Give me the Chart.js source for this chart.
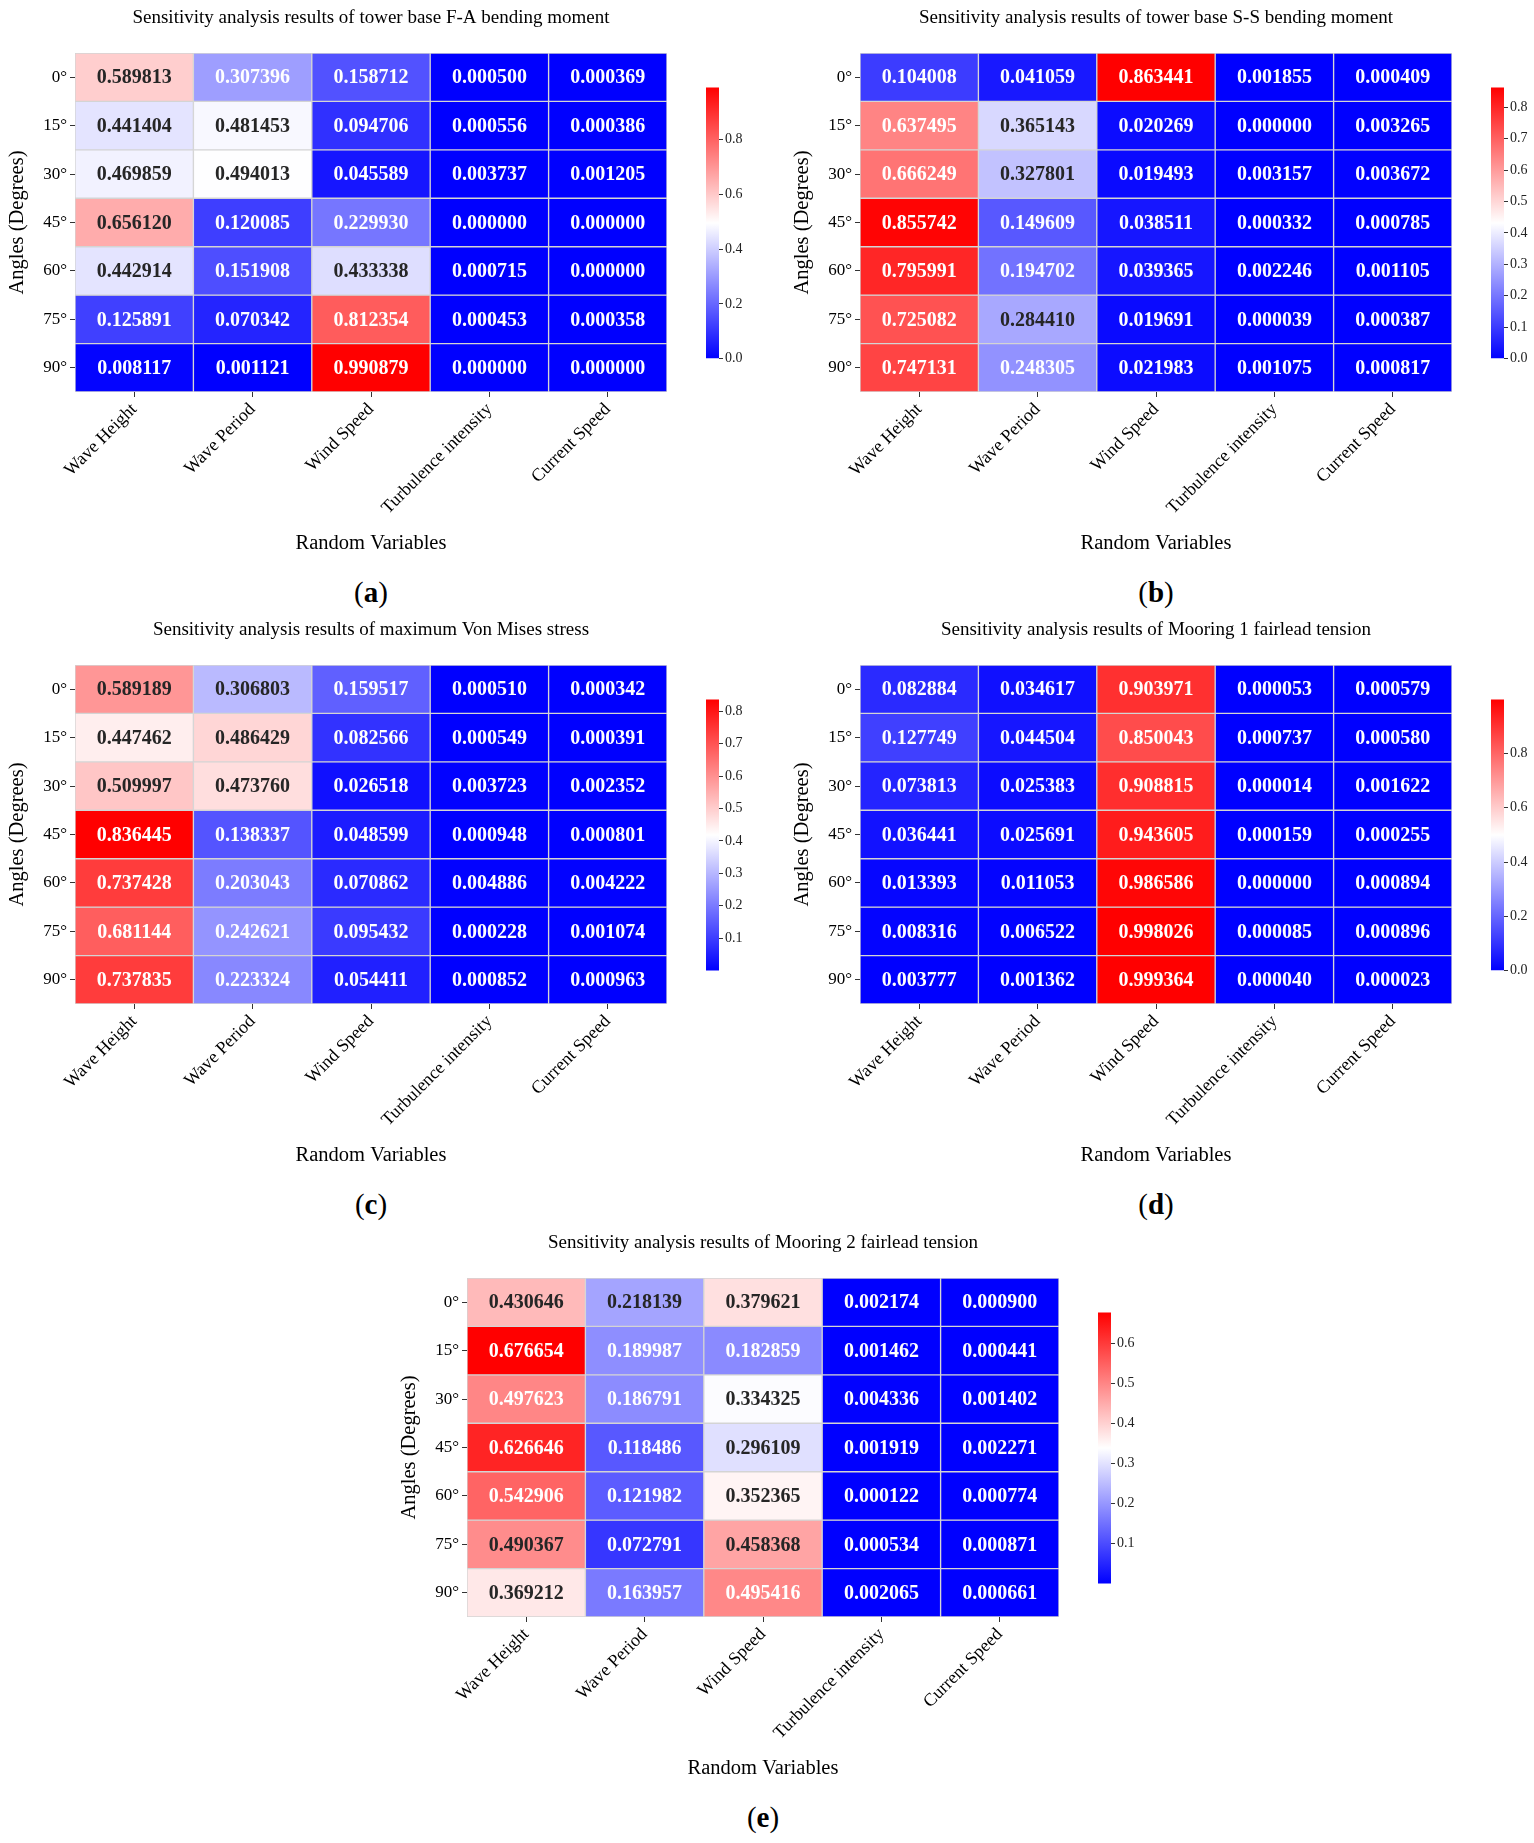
<!DOCTYPE html>
<html>
<head>
<meta charset="utf-8">
<title>Sensitivity analysis heatmaps</title>
<script src="https://cdn.jsdelivr.net/npm/chart.js@4.4.1/dist/chart.umd.min.js"></script>
<style>
  body { margin: 0; background: #fff; }
  #page { position: relative; width: 1534px; height: 1843px; font-family: "Liberation Serif", "Times New Roman", serif; }
  canvas { position: absolute; }
  .cap { position: absolute; width: 120px; text-align: center; font-size: 29px; line-height: 34px; color: #000; }
</style>
</head>
<body>
<div id="page"></div>
<script>
"use strict";

// row / column labels shared by all five maps
const angles = ["0°", "15°", "30°", "45°", "60°", "75°", "90°"];
const variables = ["Wave Height", "Wave Period", "Wind Speed", "Turbulence intensity", "Current Speed"];

// (a) tower base F-A bending moment, one row per angle
const faMoment = [
  [0.589813, 0.307396, 0.158712, 0.000500, 0.000369],
  [0.441404, 0.481453, 0.094706, 0.000556, 0.000386],
  [0.469859, 0.494013, 0.045589, 0.003737, 0.001205],
  [0.656120, 0.120085, 0.229930, 0.000000, 0.000000],
  [0.442914, 0.151908, 0.433338, 0.000715, 0.000000],
  [0.125891, 0.070342, 0.812354, 0.000453, 0.000358],
  [0.008117, 0.001121, 0.990879, 0.000000, 0.000000]
];

// (b) tower base S-S bending moment
const ssMoment = [
  [0.104008, 0.041059, 0.863441, 0.001855, 0.000409],
  [0.637495, 0.365143, 0.020269, 0.000000, 0.003265],
  [0.666249, 0.327801, 0.019493, 0.003157, 0.003672],
  [0.855742, 0.149609, 0.038511, 0.000332, 0.000785],
  [0.795991, 0.194702, 0.039365, 0.002246, 0.001105],
  [0.725082, 0.284410, 0.019691, 0.000039, 0.000387],
  [0.747131, 0.248305, 0.021983, 0.001075, 0.000817]
];

// (c) maximum Von Mises stress
const vonMises = [
  [0.589189, 0.306803, 0.159517, 0.000510, 0.000342],
  [0.447462, 0.486429, 0.082566, 0.000549, 0.000391],
  [0.509997, 0.473760, 0.026518, 0.003723, 0.002352],
  [0.836445, 0.138337, 0.048599, 0.000948, 0.000801],
  [0.737428, 0.203043, 0.070862, 0.004886, 0.004222],
  [0.681144, 0.242621, 0.095432, 0.000228, 0.001074],
  [0.737835, 0.223324, 0.054411, 0.000852, 0.000963]
];

// (d) Mooring 1 fairlead tension
const mooring1 = [
  [0.082884, 0.034617, 0.903971, 0.000053, 0.000579],
  [0.127749, 0.044504, 0.850043, 0.000737, 0.000580],
  [0.073813, 0.025383, 0.908815, 0.000014, 0.001622],
  [0.036441, 0.025691, 0.943605, 0.000159, 0.000255],
  [0.013393, 0.011053, 0.986586, 0.000000, 0.000894],
  [0.008316, 0.006522, 0.998026, 0.000085, 0.000896],
  [0.003777, 0.001362, 0.999364, 0.000040, 0.000023]
];

// (e) Mooring 2 fairlead tension
const mooring2 = [
  [0.430646, 0.218139, 0.379621, 0.002174, 0.000900],
  [0.676654, 0.189987, 0.182859, 0.001462, 0.000441],
  [0.497623, 0.186791, 0.334325, 0.004336, 0.001402],
  [0.626646, 0.118486, 0.296109, 0.001919, 0.002271],
  [0.542906, 0.121982, 0.352365, 0.000122, 0.000774],
  [0.490367, 0.072791, 0.458368, 0.000534, 0.000871],
  [0.369212, 0.163957, 0.495416, 0.002065, 0.000661]
];

// colour bar tick labels
const faTicks = [0.0, 0.2, 0.4, 0.6, 0.8];
const ssTicks = [0.0, 0.1, 0.2, 0.3, 0.4, 0.5, 0.6, 0.7, 0.8];
const vmTicks = [0.1, 0.2, 0.3, 0.4, 0.5, 0.6, 0.7, 0.8];
const m1Ticks = [0.0, 0.2, 0.4, 0.6, 0.8];
const m2Ticks = [0.1, 0.2, 0.3, 0.4, 0.5, 0.6];

Chart.defaults.font.family = '"Liberation Serif", "Times New Roman", serif';
Chart.defaults.color = "#000";

const page = document.getElementById("page");

// heatmap box size in px
const mapW = 592;
const mapH = 339;
const yAxisW = 75;
const titleH = 53;
const xAxisH = 168;

// matplotlib "bwr" through a 256 colour lut
function bwr(v, lo, hi) {
  let i = Math.floor((v - lo) / (hi - lo) * 256);
  if (i > 255) i = 255;
  if (i < 0) i = 0;
  const t = i / 255;
  if (t < 0.5) return [2 * t, 2 * t, 1];
  return [1, 2 * (1 - t), 2 * (1 - t)];
}

function toCss(c) {
  return "rgb(" + c.map(x => Math.round(x * 255)).join(",") + ")";
}

// same rule seaborn uses for annot text colour
function luminance(c) {
  const lin = c.map(x => x <= 0.03928 ? x / 12.92 : Math.pow((x + 0.055) / 1.055, 2.4));
  return 0.2126 * lin[0] + 0.7152 * lin[1] + 0.0722 * lin[2];
}

const cellLabels = {
  id: "cellLabels",
  afterDatasetsDraw(chart) {
    const opts = chart.options.plugins.cellLabels;
    const ctx = chart.ctx;
    ctx.save();
    ctx.font = 'bold 20px "Liberation Serif"';
    ctx.textAlign = "center";
    ctx.textBaseline = "middle";
    chart.data.datasets.forEach((ds, r) => {
      chart.getDatasetMeta(r).data.forEach((bar, c) => {
        const v = opts.rows[r][c];
        const col = bwr(v, opts.lo, opts.hi);
        ctx.fillStyle = luminance(col) > 0.408 ? "#262626" : "#ffffff";
        ctx.fillText(v.toFixed(6), bar.x, (bar.y + bar.base) / 2 + 1);
      });
    });
    ctx.restore();
  }
};

function addCanvas(left, top, w, h) {
  const cv = document.createElement("canvas");
  cv.width = w;
  cv.height = h;
  cv.style.left = left + "px";
  cv.style.top = top + "px";
  cv.style.width = w + "px";
  cv.style.height = h + "px";
  page.appendChild(cv);
  return cv;
}

function makePanel(mapLeft, mapTop, title, rows, cbTicks, letter) {
  const flat = rows.flat();
  const lo = Math.min(...flat);
  const hi = Math.max(...flat);

  // heatmap
  const cv = addCanvas(mapLeft - yAxisW, mapTop - titleH, yAxisW + mapW + 12, titleH + mapH + xAxisH);
  const datasets = rows.map(row => ({
    data: row.map(() => 1),
    backgroundColor: row.map(v => toCss(bwr(v, lo, hi))),
    borderColor: "#d4d4d4",
    borderWidth: 1,
    borderSkipped: false,
    barPercentage: 1,
    categoryPercentage: 1
  }));

  new Chart(cv, {
    type: "bar",
    data: { labels: variables, datasets: datasets },
    plugins: [cellLabels],
    options: {
      responsive: false,
      animation: false,
      events: [],
      layout: { padding: { left: 0, right: 12, top: 0, bottom: 0 } },
      plugins: {
        legend: { display: false },
        tooltip: { enabled: false },
        title: {
          display: true,
          text: title,
          fullSize: false,
          color: "#000",
          font: { size: 19, weight: "normal", lineHeight: "22px" },
          padding: { top: 7, bottom: 24 }
        },
        cellLabels: { rows: rows, lo: lo, hi: hi }
      },
      scales: {
        x: {
          type: "category",
          stacked: true,
          offset: true,
          afterFit(scale) { scale.height = xAxisH; },
          grid: { offset: false, drawOnChartArea: false, tickLength: 5, tickColor: "#333" },
          border: { display: false },
          ticks: { autoSkip: false, minRotation: 45, maxRotation: 45, padding: 2, color: "#000", font: { size: 18 } },
          title: { display: true, text: "Random Variables", color: "#000", font: { size: 20.5, lineHeight: "24px" }, padding: { top: 0, bottom: 4 } }
        },
        y: {
          type: "linear",
          stacked: true,
          reverse: true,
          min: 0,
          max: angles.length,
          afterFit(scale) { scale.width = yAxisW; },
          afterBuildTicks(scale) { scale.ticks = angles.map((a, i) => ({ value: i + 0.5 })); },
          grid: { drawOnChartArea: false, tickLength: 5, tickColor: "#333" },
          border: { display: false },
          ticks: { autoSkip: false, padding: 3, color: "#000", font: { size: 17 }, callback: (value, index) => angles[index] },
          title: { display: true, text: "Angles (Degrees)", color: "#000", font: { size: 20.5, lineHeight: "24px" }, padding: { top: 6, bottom: 0 } }
        }
      }
    }
  });

  // colour bar
  const cbLeft = mapLeft + mapW + 39;
  const cbTop = mapTop + 34;
  const cb = addCanvas(cbLeft, cbTop - 10, 13 + 42, 272 + 20);
  new Chart(cb, {
    type: "bar",
    data: {
      labels: [""],
      datasets: [{
        data: [[lo, hi]],
        barPercentage: 1,
        categoryPercentage: 1,
        borderWidth: 0,
        backgroundColor(context) {
          const area = context.chart.chartArea;
          if (!area) return "#fff";
          const g = context.chart.ctx.createLinearGradient(0, area.bottom, 0, area.top);
          g.addColorStop(0, "rgb(0,0,255)");
          g.addColorStop(0.5, "rgb(255,255,255)");
          g.addColorStop(1, "rgb(255,0,0)");
          return g;
        }
      }]
    },
    options: {
      responsive: false,
      animation: false,
      events: [],
      layout: { padding: { left: 0, right: 0, top: 10, bottom: 10 } },
      plugins: { legend: { display: false }, tooltip: { enabled: false } },
      scales: {
        x: { display: false, offset: true },
        y: {
          position: "right",
          min: lo,
          max: hi,
          afterFit(scale) { scale.width = 42; },
          afterBuildTicks(scale) { scale.ticks = cbTicks.map(v => ({ value: v })); },
          grid: { drawOnChartArea: false, tickLength: 4, tickColor: "#333" },
          border: { display: false },
          ticks: { padding: 2, color: "#222", font: { size: 14 }, callback: v => v.toFixed(1) }
        }
      }
    }
  });

  // sub figure letter
  const cap = document.createElement("div");
  cap.className = "cap";
  cap.style.left = (mapLeft + mapW / 2 - 60) + "px";
  cap.style.top = (mapTop + 539 - 17) + "px";
  cap.innerHTML = "(<b>" + letter + "</b>)";
  page.appendChild(cap);
}

makePanel(75, 53, "Sensitivity analysis results of tower base F-A bending moment", faMoment, faTicks, "a");
makePanel(860, 53, "Sensitivity analysis results of tower base S-S bending moment", ssMoment, ssTicks, "b");
makePanel(75, 665, "Sensitivity analysis results of maximum Von Mises stress", vonMises, vmTicks, "c");
makePanel(860, 665, "Sensitivity analysis results of Mooring 1 fairlead tension", mooring1, m1Ticks, "d");
makePanel(467, 1278, "Sensitivity analysis results of Mooring 2 fairlead tension", mooring2, m2Ticks, "e");
</script>
</body>
</html>
